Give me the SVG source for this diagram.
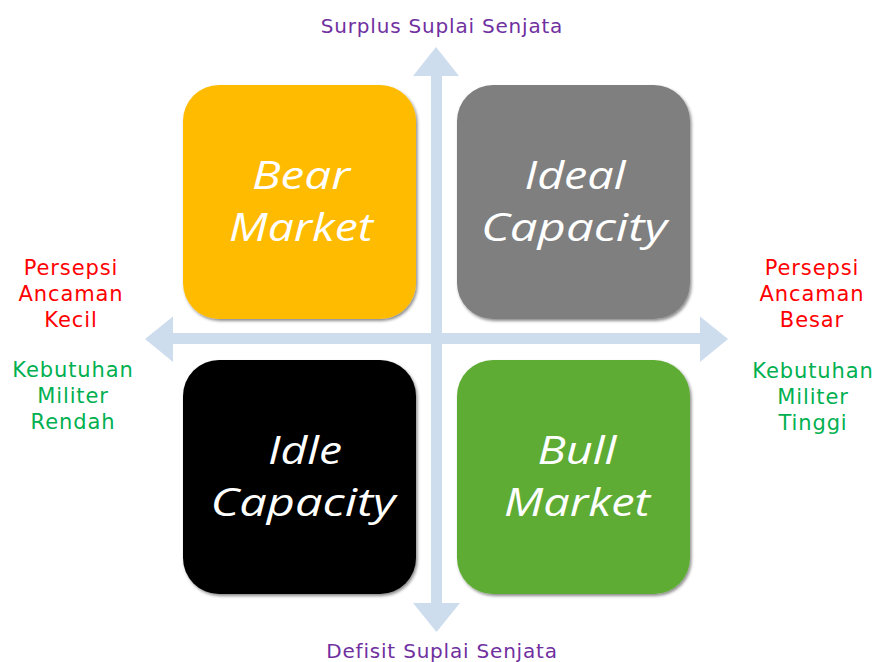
<svg xmlns="http://www.w3.org/2000/svg" width="876" height="662" viewBox="0 0 876 662">
<style>
.lbl{font-family:"DejaVu Sans","Liberation Sans",sans-serif;font-size:21px;letter-spacing:0.9px;text-anchor:middle}
.red{fill:#FF0000}
.grn{fill:#00B050}
.pur{fill:#7030A0;font-size:20px;letter-spacing:0.8px}
.box{stroke:none;filter:url(#sh)}
.bt{font-family:"Open Sans","DejaVu Sans",sans-serif;font-style:italic;font-weight:400;font-size:39px;fill:#FFFFFF;text-anchor:middle}
.arr{fill:#CDDDEE}
</style>
<defs>
<filter id="sh" x="-10%" y="-10%" width="125%" height="125%">
<feDropShadow dx="1.5" dy="2" stdDeviation="1.8" flood-color="#000" flood-opacity="0.45"/>
</filter>
</defs>
<g id="connectors">
<rect class="arr" x="431" y="74" width="11" height="532"/>
<polygon class="arr" points="436,47 459,76 413,76"/>
<polygon class="arr" points="436.5,632 460,603 413,603"/>
<rect class="arr" x="170" y="333" width="533" height="11"/>
<polygon class="arr" points="145,339 173,316.5 173,362"/>
<polygon class="arr" points="728,339 700,316.5 700,362"/>
</g>
<g id="bear">
<rect class="box" x="183" y="85" width="233" height="234" rx="36" fill="#FFBB00"/>
<text class="bt" x="301" y="189" textLength="98" lengthAdjust="spacingAndGlyphs">Bear</text>
<text class="bt" x="301" y="241" textLength="144" lengthAdjust="spacingAndGlyphs">Market</text>
</g>
<g id="ideal">
<rect class="box" x="457" y="85" width="233" height="234" rx="36" fill="#7F7F7F"/>
<text class="bt" x="575" y="189" textLength="101" lengthAdjust="spacingAndGlyphs">Ideal</text>
<text class="bt" x="574" y="241" textLength="186" lengthAdjust="spacingAndGlyphs">Capacity</text>
</g>
<g id="idle">
<rect class="box" x="183" y="360" width="233" height="234" rx="36" fill="#000000"/>
<text class="bt" x="305" y="464" textLength="74" lengthAdjust="spacingAndGlyphs">Idle</text>
<text class="bt" x="303" y="516" textLength="185" lengthAdjust="spacingAndGlyphs">Capacity</text>
</g>
<g id="bull">
<rect class="box" x="457" y="360" width="233" height="234" rx="36" fill="#5EAC35"/>
<text class="bt" x="577" y="464" textLength="79" lengthAdjust="spacingAndGlyphs">Bull</text>
<text class="bt" x="577" y="516" textLength="146" lengthAdjust="spacingAndGlyphs">Market</text>
</g>
<g id="top-label">
<text class="lbl pur" x="442" y="33">Surplus Suplai Senjata</text>
</g>
<g id="bottom-label">
<text class="lbl pur" x="442" y="658">Defisit Suplai Senjata</text>
</g>
<g id="left-label">
<text class="lbl red" x="71" y="275">Persepsi</text>
<text class="lbl red" x="71" y="301">Ancaman</text>
<text class="lbl red" x="71" y="327">Kecil</text>
<text class="lbl grn" x="73" y="377">Kebutuhan</text>
<text class="lbl grn" x="73" y="403">Militer</text>
<text class="lbl grn" x="73" y="429">Rendah</text>
</g>
<g id="right-label">
<text class="lbl red" x="812" y="275">Persepsi</text>
<text class="lbl red" x="812" y="301">Ancaman</text>
<text class="lbl red" x="812" y="327">Besar</text>
<text class="lbl grn" x="813" y="378">Kebutuhan</text>
<text class="lbl grn" x="813" y="404">Militer</text>
<text class="lbl grn" x="813" y="430">Tinggi</text>
</g>
</svg>
